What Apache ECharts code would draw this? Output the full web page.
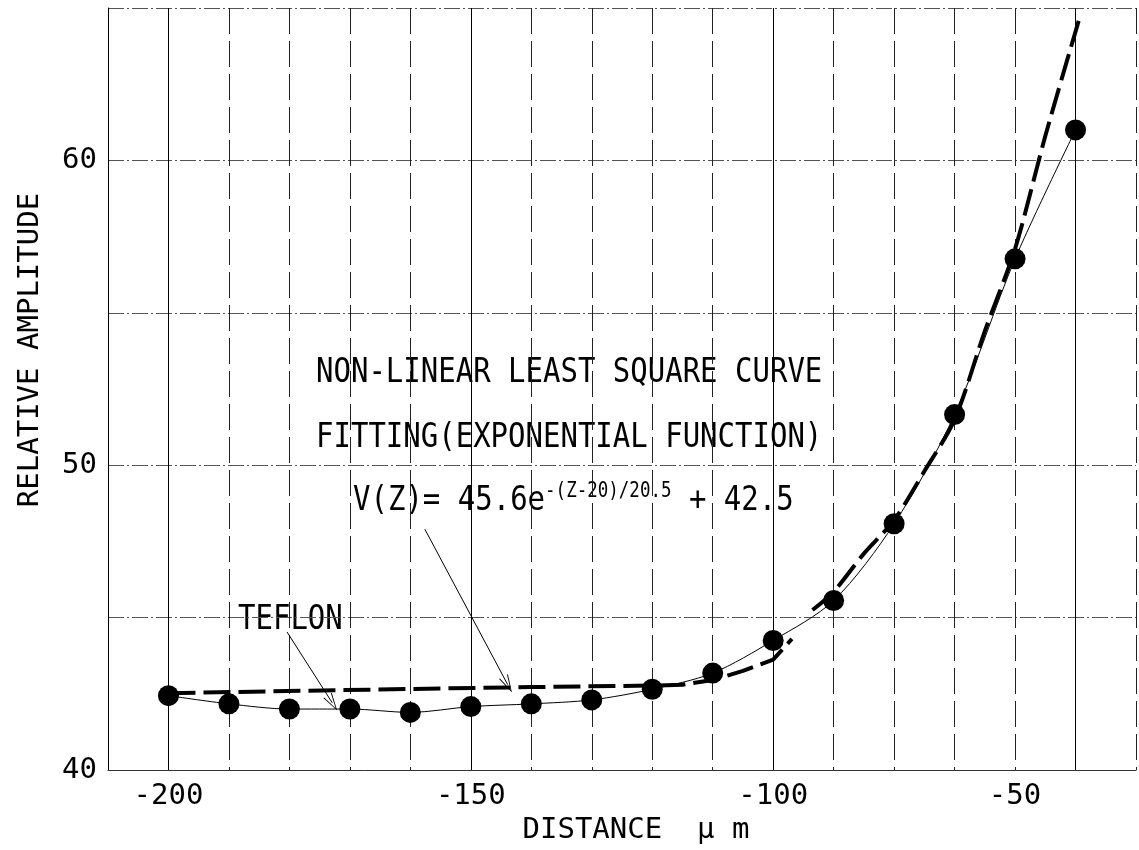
<!DOCTYPE html>
<html>
<head>
<meta charset="utf-8">
<script src="https://cdn.jsdelivr.net/npm/echarts@6/dist/echarts.min.js"></script>
<style>
  html, body { margin: 0; padding: 0; background: #fff; overflow: hidden; }
  #chart { width: 1139px; height: 850px; }
</style>
</head>
<body>
<div id="chart"></div>
<script>
// measured points (grid position in um, relative amplitude)
const distance = [-200, -190, -180, -170, -160, -150, -140, -130, -120, -110, -100, -90, -80, -70, -60, -50]
const amplitude = [42.44, 42.17, 42.0, 42.0, 41.89, 42.08, 42.17, 42.3, 42.65, 43.18, 44.25, 45.56, 48.08, 51.66, 56.77, 61.0]

// fitted curve, drawn in two pieces as in the figure
const fitLowX = [-200, -160, -140, -120, -115, -110, -105, -100, -96.9]
const fitLowY = [42.52, 42.66, 42.72, 42.77, 42.8, 42.95, 43.25, 43.62, 44.3]
const fitHighX = [-93.5, -90, -85, -80, -75, -70, -65, -60, -55, -49.3]
const fitHighY = [45.25, 45.85, 47.1, 48.2, 49.8, 51.5, 54.4, 57.1, 60.8, 64.7]

// tick labels as printed (the "-50" sits one grid line left of the solid line)
const xLabelAt = [-200, -150, -100, -60]
const xLabelText = ['-200', '-150', '-100', '-50']
const xMajor = [-200, -150, -100, -50]
const yLabels = [40, 50, 60]

// pointer arrows [from, to] in data units
const teflonArrow = [[-180.4, 44.53], [-172.9, 42.2]]
const fitArrow = [[-157.6, 47.9], [-143.9, 42.8]]

const font = 'DejaVu Sans Mono'
const zip = (xs, ys) => xs.map((x, i) => [x, ys[i]])
const headPath = 'path://M5,0 L10,16 L9,16 L5,2.5 L1,16 L0,16 Z'

const chart = echarts.init(document.getElementById('chart'))

function arrow(pair) {
  return [
    { coord: pair[0], symbol: 'none' },
    { coord: pair[1], symbol: headPath, symbolSize: [10, 18] }
  ]
}

chart.setOption({
  animation: false,
  backgroundColor: '#fff',
  grid: {
    left: 108,
    right: -3,
    top: 8,
    bottom: 80
  },
  xAxis: {
    type: 'value',
    min: -210,
    max: -40,
    interval: 10,
    name: 'DISTANCE  \u03bc m',
    nameLocation: 'middle',
    nameGap: 43,
    nameTextStyle: {
      color: '#000',
      fontFamily: font,
      fontSize: 29,
      padding: [0, 0, 0, 28]
    },
    axisLine: { lineStyle: { color: '#333', width: 1 } },
    axisTick: { show: false },
    axisLabel: {
      color: '#000',
      fontFamily: font,
      fontSize: 29,
      margin: 12,
      formatter: v => {
        const i = xLabelAt.indexOf(v)
        return i < 0 ? '' : xLabelText[i]
      }
    },
    splitLine: {
      show: true,
      lineStyle: { color: '#222', width: 1, type: [26, 7] }
    }
  },
  yAxis: {
    type: 'value',
    min: 40,
    max: 65,
    interval: 5,
    name: 'RELATIVE AMPLITUDE',
    nameLocation: 'middle',
    nameGap: 63,
    nameTextStyle: {
      color: '#000',
      fontFamily: font,
      fontSize: 29,
      padding: [0, 0, 0, 78]
    },
    axisLine: { show: true, lineStyle: { color: '#000', width: 1 } },
    axisTick: { show: false },
    axisLabel: {
      color: '#000',
      fontFamily: font,
      fontSize: 29,
      margin: 11,
      formatter: v => (yLabels.indexOf(v) < 0 ? '' : String(v))
    },
    splitLine: {
      show: true,
      lineStyle: { color: '#555', width: 1, type: [16, 3, 2, 3] }
    }
  },
  series: [
    {
      name: 'TEFLON',
      type: 'line',
      data: zip(distance, amplitude),
      smooth: 0.3,
      symbol: 'circle',
      symbolSize: 21,
      itemStyle: { color: '#000' },
      lineStyle: { color: '#000', width: 1 },
      z: 5,
      markLine: {
        silent: true,
        symbol: 'none',
        label: { show: false },
        lineStyle: { color: '#000', width: 1, type: 'solid' },
        data: xMajor.map(v => ({ xAxis: v }))
      }
    },
    {
      name: 'fit',
      type: 'line',
      data: zip(fitLowX, fitLowY),
      symbol: 'none',
      lineStyle: { color: '#000', width: 4, type: [27, 8] },
      z: 4,
      markLine: {
        silent: true,
        label: { show: false },
        lineStyle: { color: '#000', width: 1, type: 'solid' },
        data: [arrow(teflonArrow), arrow(fitArrow)]
      }
    },
    {
      name: 'fit2',
      type: 'line',
      data: zip(fitHighX, fitHighY),
      smooth: 0.3,
      symbol: 'none',
      lineStyle: { color: '#000', width: 4, type: [27, 8] },
      z: 4
    }
  ],
  graphic: [
    {
      type: 'text', x: 316, y: 373, scaleY: 1.18,
      style: { text: 'NON-LINEAR LEAST SQUARE CURVE', fontFamily: font, fontSize: 29, fill: '#000', verticalAlign: 'middle' }
    },
    {
      type: 'text', x: 316, y: 438, scaleY: 1.18,
      style: { text: 'FITTING(EXPONENTIAL FUNCTION)', fontFamily: font, fontSize: 29, fill: '#000', verticalAlign: 'middle' }
    },
    {
      type: 'text', x: 353, y: 501, scaleY: 1.18,
      style: {
        text: '{m|V(Z)= 45.6e}{s|-(Z-20)/20.5}{m| + 42.5}',
        verticalAlign: 'middle',
        rich: {
          m: { fontFamily: font, fontSize: 29, lineHeight: 34, fill: '#000', verticalAlign: 'middle' },
          s: { fontFamily: font, fontSize: 17.5, lineHeight: 20, fill: '#000', verticalAlign: 'top' }
        }
      }
    },
    {
      type: 'text', x: 238, y: 620, scaleY: 1.18,
      style: { text: 'TEFLON', fontFamily: font, fontSize: 29, fill: '#000', verticalAlign: 'middle' }
    }
  ]
})
</script>
</body>
</html>
